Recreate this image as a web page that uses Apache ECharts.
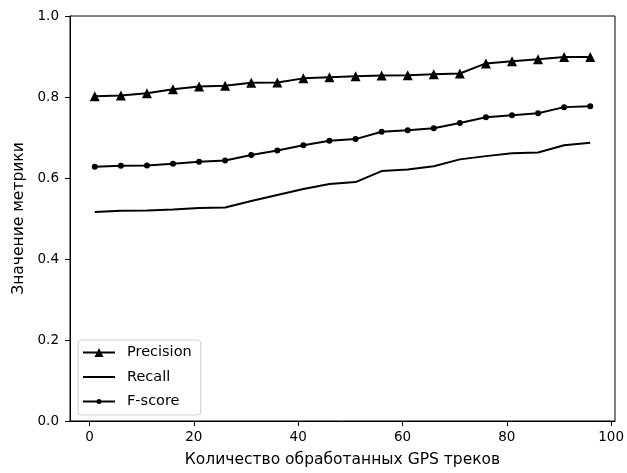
<!DOCTYPE html>
<html>
<head>
<meta charset="utf-8">
<script src="https://cdn.jsdelivr.net/npm/echarts@6/dist/echarts.min.js"></script>
<style>html,body{margin:0;padding:0;background:#fff}#c{width:627px;height:473px}</style>
</head>
<body>
<div id="c"></div>
<script>
const tracks = [1, 6, 11, 16, 21, 26, 31, 36, 41, 46, 51, 56, 61, 66, 71, 76, 81, 86, 91, 96];
const precision = [0.802, 0.804, 0.809, 0.819, 0.826, 0.828, 0.835, 0.836, 0.846, 0.849, 0.851, 0.853, 0.854, 0.856, 0.858, 0.883, 0.888, 0.893, 0.899, 0.899];
const recall = [0.516, 0.519, 0.520, 0.522, 0.526, 0.527, 0.543, 0.558, 0.573, 0.585, 0.590, 0.617, 0.621, 0.629, 0.646, 0.654, 0.661, 0.663, 0.681, 0.687];
const fscore = [0.628, 0.630, 0.631, 0.635, 0.640, 0.643, 0.657, 0.668, 0.681, 0.692, 0.696, 0.714, 0.718, 0.723, 0.736, 0.750, 0.755, 0.760, 0.775, 0.777];
const xTicks = [0, 20, 40, 60, 80, 100];
const seriesNames = ['Precision', 'Recall', 'F-score'];

const font = 'DejaVu Sans';
// legend handle icons (line + marker), drawn in a 32px-wide box
const iconPrecision = 'path://M0,6L14,6L14,8L0,8ZM18,6L32,6L32,8L18,8ZM16,2.5L20.5,11.5L11.5,11.5Z';
const iconRecall = 'path://M0,6L32,6L32,8L0,8Z';
const iconFscore = 'path://M0,6L14,6L14,8L0,8ZM18,6L32,6L32,8L18,8ZM13.5,7A2.5,2.5 0 1,1 18.5,7A2.5,2.5 0 1,1 13.5,7Z';

const chart = echarts.init(document.getElementById('c'), null, {renderer: 'canvas'});
const pairs = arr => tracks.map((t, i) => [t, arr[i]]);
chart.setOption({
  animation: false,
  backgroundColor: '#fff',
  textStyle: {fontFamily: font},
  grid: {left: 70, right: 12, top: 16, bottom: 52, outerBoundsMode: 'none', containLabel: false,
         show: true, borderColor: '#000', borderWidth: 1, backgroundColor: 'transparent'},
  xAxis: {
    type: 'value', min: -3.75, max: 100.75,
    name: 'Количество обработанных GPS треков', nameLocation: 'middle', nameGap: 31,
    nameTextStyle: {fontFamily: font, fontSize: 15.5, color: '#000'},
    axisLine: {show: true, onZero: false, lineStyle: {color: '#000', width: 1}},
    axisTick: {show: true, length: 5, lineStyle: {color: '#000', width: 1}, customValues: xTicks},
    axisLabel: {fontFamily: font, fontSize: 13.5, color: '#000', margin: 9, customValues: xTicks},
    splitLine: {show: false}
  },
  yAxis: {
    type: 'value', min: 0, max: 1, interval: 0.2,
    name: 'Значение метрики', nameLocation: 'middle', nameGap: 41,
    nameTextStyle: {fontFamily: font, fontSize: 15.5, color: '#000'},
    axisLine: {show: true, onZero: false, lineStyle: {color: '#000', width: 1}},
    axisTick: {show: true, length: 5, lineStyle: {color: '#000', width: 1}},
    axisLabel: {fontFamily: font, fontSize: 13.5, color: '#000', margin: 11, formatter: v => v.toFixed(1)},
    splitLine: {show: false}
  },
  legend: {
    orient: 'vertical', left: 78, top: 340,
    padding: [5, 9, 6, 5],
    itemWidth: 32, itemHeight: 14, itemGap: 9.5,
    symbolKeepAspect: true,
    backgroundColor: 'rgba(255,255,255,0.8)', borderColor: '#d0d0d0', borderWidth: 1, borderRadius: 3,
    textStyle: {fontFamily: font, fontSize: 14.5, color: '#000', padding: [0, 0, 0, 7]},
    data: [
      {name: seriesNames[0], icon: iconPrecision},
      {name: seriesNames[1], icon: iconRecall},
      {name: seriesNames[2], icon: iconFscore}
    ]
  },
  series: [
    {name: seriesNames[0], type: 'line', data: pairs(precision), symbol: 'triangle', symbolSize: 10,
     lineStyle: {color: '#000', width: 2}, itemStyle: {color: '#000'}, z: 3},
    {name: seriesNames[1], type: 'line', data: pairs(recall), symbol: 'none', showSymbol: false,
     lineStyle: {color: '#000', width: 2}, itemStyle: {color: '#000'}, z: 2},
    {name: seriesNames[2], type: 'line', data: pairs(fscore), symbol: 'circle', symbolSize: 6,
     lineStyle: {color: '#000', width: 2}, itemStyle: {color: '#000'}, z: 2}
  ]
});
</script>
</body>
</html>
